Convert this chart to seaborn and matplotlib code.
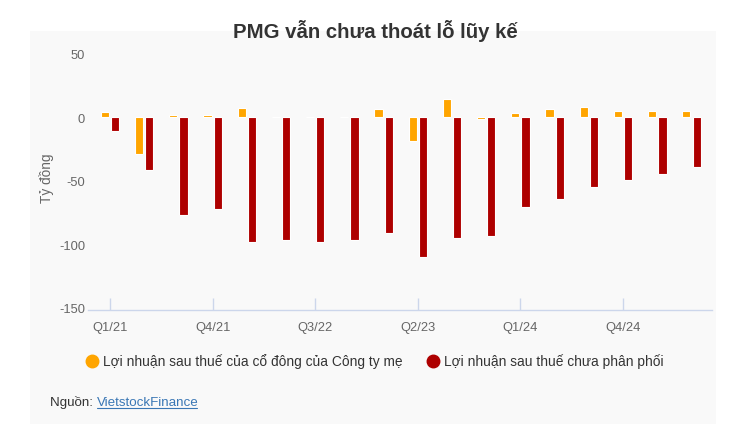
import pandas as pd
import matplotlib
matplotlib.use("Agg")
import matplotlib.pyplot as plt
from matplotlib.lines import Line2D
from matplotlib.patches import Rectangle
import seaborn as sns

# Data (ty dong)
quarters = ["Q1/21", "Q2/21", "Q3/21", "Q4/21", "Q1/22", "Q2/22", "Q3/22", "Q4/22",
            "Q1/23", "Q2/23", "Q3/23", "Q4/23", "Q1/24", "Q2/24", "Q3/24", "Q4/24",
            "Q1/25", "Q2/25"]
parent_profit = [4.5, -29, 1.5, 1.5, 7.3, 0.3, 0.3, 0.3,
                 6.5, -19, 14.4, -1, 3.7, 6.5, 8.1, 4.7, 4.7, 4.7]
undistributed = [-11, -41.5, -77, -72.5, -98, -96.3, -98, -96.3,
                 -91, -110, -95, -93.7, -71, -64, -55, -49.7, -44.5, -39]
series_names = ["Lợi nhuận sau thuế của cổ đông của Công ty mẹ",
                "Lợi nhuận sau thuế chưa phân phối"]
colors = ["#FFA500", "#AE0000"]

df = pd.DataFrame({
    "quarter": quarters * 2,
    "series": [series_names[0]] * len(quarters) + [series_names[1]] * len(quarters),
    "value": parent_profit + undistributed,
})

sns.set_theme(style="white")
plt.rcParams["font.family"] = ["Liberation Sans", "DejaVu Sans"]

fig = plt.figure(figsize=(7.56, 4.35), dpi=100)
fig.patch.set_facecolor("white")
W, H = 756, 435

# light grey panel behind the chart
fig.patches.append(Rectangle((30 / W, 1 - 425 / H), 686 / W, 393 / H,
                             transform=fig.transFigure, facecolor="#f9f9f9",
                             edgecolor="none", zorder=-10))

ax = fig.add_axes([88 / W, 1 - 311 / H, 624 / W, 266 / H])
ax.set_facecolor("none")

sns.barplot(data=df, x="quarter", y="value", hue="series", palette=colors,
            width=0.6, gap=0.2, edgecolor="white", linewidth=0.8,
            saturation=1, legend=False, ax=ax)

ax.set_ylim(-151.7, 57.7)
ax.set_xlim(-0.643, 17.6)
ax.set_yticks([50, 0, -50, -100, -150])
ax.set_yticklabels(["50", "0", "-50", "-100", "-150"])
ax.set_xticks([0, 3, 6, 9, 12, 15])
ax.set_xticklabels([quarters[i] for i in [0, 3, 6, 9, 12, 15]])
ax.tick_params(axis="x", bottom=True, direction="in", length=9, width=1, color="#ccd6eb",
               labelsize=9.3, labelcolor="#666666", pad=8)
ax.tick_params(axis="y", left=False, length=0, labelsize=9.3, labelcolor="#666666", pad=2)
for s in ["top", "right", "left"]:
    ax.spines[s].set_visible(False)
ax.spines["bottom"].set_color("#ccd6eb")
ax.spines["bottom"].set_linewidth(1)
ax.set_xlabel("")
ax.set_ylabel("Tỷ đồng", fontsize=9.8, color="#666666", labelpad=4)
ax.grid(False)

fig.text(0.497, 1 - 31 / H, "PMG vẫn chưa thoát lỗ lũy kế", ha="center", va="center",
         fontsize=14.7, fontweight="bold", color="#333333")

handles = [Line2D([], [], marker="o", linestyle="none", markersize=9,
                  markerfacecolor=c, markeredgecolor=c) for c in colors]
fig.legend(handles, series_names, loc="center", bbox_to_anchor=(375 / W, 1 - 362 / H),
           ncol=2, frameon=False, fontsize=9.9, handlelength=0.8, handletextpad=0.4,
           columnspacing=1.8, labelcolor="#333333")

# source line with underlined link
src = fig.text(50 / W, 1 - 403 / H, "Nguồn: ", ha="left", va="center",
               fontsize=9.6, color="#333333")
fig.canvas.draw()
bb = src.get_window_extent()
link = fig.text(bb.x1 / W, 1 - 403 / H, "VietstockFinance", ha="left", va="center",
                fontsize=9.6, color="#3a77b5")
fig.canvas.draw()
lb = link.get_window_extent()
fig.add_artist(Line2D([lb.x0 / W, (lb.x1 - 1) / W], [(lb.y0 + 0.5) / H, (lb.y0 + 0.5) / H],
                      color="#3a77b5", linewidth=0.8))

fig.savefig("out.png", dpi=100, facecolor="white")
